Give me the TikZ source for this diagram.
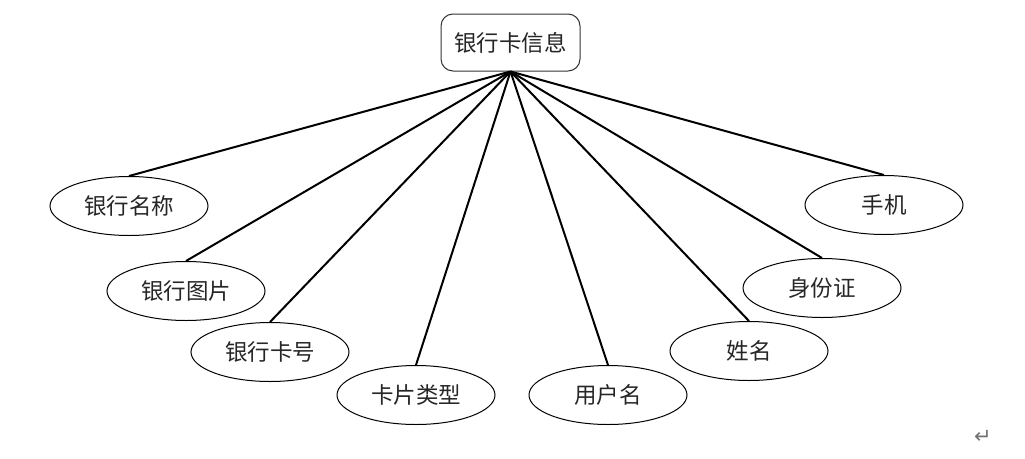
\documentclass[tikz,border=0pt]{standalone}
\usepackage{fontspec}
\newfontfamily\cjk{Noto Sans CJK SC}
\newfontfamily\dejavu{DejaVu Sans}
\usetikzlibrary{shapes.geometric}
\tikzset{
  attr/.style={draw=black, line width=1pt, ellipse, minimum width=158pt, minimum height=59pt, inner sep=0pt, font=\cjk\fontsize{22.5}{26}\selectfont, text=black!85},
  entity/.style={draw=black!80, line width=1pt, rounded corners=12pt, minimum width=139pt, minimum height=57pt, inner sep=0pt, font=\cjk\fontsize{22.5}{26}\selectfont, text=black!85},
  link/.style={line width=2pt, black}
}
\begin{document}
\begin{tikzpicture}[x=1pt,y=-1pt]
\useasboundingbox (0,0) rectangle (1025,458);
\node[entity] (top) at (510.5,42.5) {银行卡信息};
\node[attr] (a1) at (129,206) {银行名称};
\node[attr] (a2) at (186,291) {银行图片};
\node[attr] (a3) at (270,352) {银行卡号};
\node[attr] (a4) at (416,395) {卡片类型};
\node[attr] (a5) at (608,395) {用户名};
\node[attr] (a6) at (749,351) {姓名};
\node[attr] (a7) at (822,288) {身份证};
\node[attr] (a8) at (884,205) {手机};
\foreach \n in {a1,a2,a3,a4,a5,a6,a7,a8}{
  \draw[link] (top.south) -- (\n.north);
}
\node[font=\dejavu\fontsize{21}{24}\selectfont, text=black!55] (ret) at (983,437) {↵};
\end{tikzpicture}
\end{document}
